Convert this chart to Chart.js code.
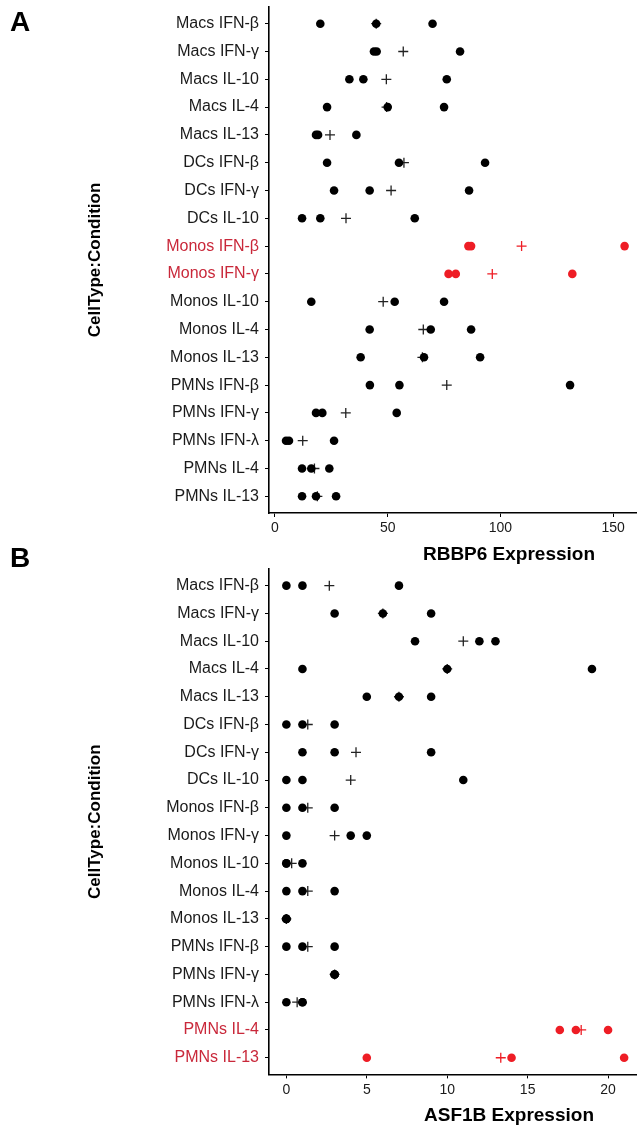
<!DOCTYPE html>
<html>
<head>
<meta charset="utf-8">
<script src="https://cdn.jsdelivr.net/npm/chart.js@4.4.0/dist/chart.umd.min.js"></script>
<style>
  html, body { margin: 0; padding: 0; background: #fff; overflow: hidden; }
  #page { position: relative; width: 637px; height: 1126px; }
  canvas { position: absolute; left: 0; }
  .letter { position: absolute; left: 10px; font: bold 28px "Liberation Sans", Arial, sans-serif; line-height: 28px; color: #000; }
  .xtitle { position: absolute; left: 409px; width: 200px; text-align: center; font: bold 19px "Liberation Sans", Arial, sans-serif; line-height: 20px; color: #000; }
</style>
</head>
<body>
<div id="page">
  <canvas id="chartA" width="637" height="563" style="top:0"></canvas>
  <canvas id="chartB" width="637" height="563" style="top:563px"></canvas>
  <div class="letter" style="top:8px">A</div>
  <div class="letter" style="top:544px">B</div>
  <div class="xtitle" style="top:544px">RBBP6 Expression</div>
  <div class="xtitle" style="top:1105px">ASF1B Expression</div>
</div>
<script>
// categorias (de arriba hacia abajo)
var rowLabels = [
    'Macs IFN-β', 'Macs IFN-γ', 'Macs IL-10', 'Macs IL-4', 'Macs IL-13',
    'DCs IFN-β', 'DCs IFN-γ', 'DCs IL-10',
    'Monos IFN-β', 'Monos IFN-γ', 'Monos IL-10', 'Monos IL-4', 'Monos IL-13',
    'PMNs IFN-β', 'PMNs IFN-γ', 'PMNs IFN-λ', 'PMNs IL-4', 'PMNs IL-13'
];

// Panel A - RBBP6 (tres replicas + media)
var rbbp6Rep1 = [20.1, 43.9, 33.0, 23.1, 18.2, 23.1, 26.2, 12.0, 85.8, 77.0, 16.1, 42.0, 38.0, 42.1, 18.2, 4.9, 12.0, 12.0];
var rbbp6Rep2 = [44.9, 45.1, 39.2, 50.0, 19.1, 55.0, 42.0, 20.1, 87.0, 80.2, 53.1, 69.1, 66.1, 55.2, 21.0, 6.2, 16.1, 18.2];
var rbbp6Rep3 = [69.9, 82.1, 76.2, 75.0, 36.1, 93.2, 86.1, 62.0, 155.1, 131.9, 75.0, 87.0, 91.0, 130.9, 54.0, 26.2, 24.1, 27.1];
var rbbp6Mean = [44.9, 56.9, 49.4, 49.5, 24.4, 57.2, 51.5, 31.5, 109.4, 96.4, 48.0, 65.8, 65.4, 76.2, 31.4, 12.3, 17.5, 18.8];
var rbbp6Highlight = ['Monos IFN-β', 'Monos IFN-γ'];
var rbbp6Ticks = [0, 50, 100, 150];

// Panel B - ASF1B
var asf1bRep1 = [0, 3, 8, 1, 5, 0, 1, 0, 0, 0, 0, 0, 0, 0, 3, 0, 17, 5];
var asf1bRep2 = [1, 6, 12, 10, 7, 1, 3, 1, 1, 4, 0, 1, 0, 1, 3, 1, 18, 14];
var asf1bRep3 = [7, 9, 13, 19, 9, 3, 9, 11, 3, 5, 1, 3, 0, 3, 3, 1, 20, 21];
var asf1bMean = [2.67, 6, 11, 10, 7, 1.33, 4.33, 4, 1.33, 3, 0.33, 1.33, 0, 1.33, 3, 0.67, 18.33, 13.33];
var asf1bHighlight = ['PMNs IL-4', 'PMNs IL-13'];
var asf1bTicks = [0, 5, 10, 15, 20];

var RED_POINT = '#ee1d25';
var RED_LABEL = '#c9283a';
var FONT = '"Liberation Sans", Arial, Helvetica, sans-serif';

Chart.defaults.font.family = FONT;

function makePanel(canvasId, reps, mean, highlight, xTicks, xMin, xMax, padTop, xAxisHeight) {
    var isRed = function (i) { return highlight.indexOf(rowLabels[i]) >= 0; };

    // puntos de cada replica
    var repPoints = [];
    var repColors = [];
    reps.forEach(function (rep) {
        rep.forEach(function (v, i) {
            repPoints.push({ x: v, y: i });
            repColors.push(isRed(i) ? RED_POINT : '#000');
        });
    });

    var meanPoints = mean.map(function (v, i) { return { x: v, y: i }; });
    var meanColors = mean.map(function (v, i) { return isRed(i) ? RED_POINT : '#222'; });

    var axisGrid = { drawOnChartArea: false, drawTicks: true, tickLength: 4, color: '#000', lineWidth: 1 };
    var axisBorder = { display: true, color: '#000', width: 1.6 };

    return new Chart(document.getElementById(canvasId), {
        type: 'scatter',
        data: {
            datasets: [
                {
                    label: 'Replicas',
                    data: repPoints,
                    pointStyle: 'circle',
                    pointRadius: 4.3,
                    pointBorderWidth: 0,
                    pointBackgroundColor: repColors,
                    pointBorderColor: repColors
                },
                {
                    label: 'Media',
                    data: meanPoints,
                    pointStyle: 'cross',
                    pointRadius: 5,
                    pointBorderWidth: 1.3,
                    pointBorderColor: meanColors,
                    pointBackgroundColor: meanColors
                }
            ]
        },
        options: {
            responsive: false,
            animation: false,
            events: [],
            layout: { autoPadding: false, padding: { top: padTop, left: 0, right: 0, bottom: 0 } },
            plugins: { legend: { display: false }, tooltip: { enabled: false } },
            scales: {
                x: {
                    type: 'linear',
                    min: xMin,
                    max: xMax,
                    afterBuildTicks: function (s) { s.ticks = xTicks.map(function (v) { return { value: v }; }); },
                    afterFit: function (s) {
                        s.height = xAxisHeight;
                        s.paddingLeft = 0;
                        s.paddingRight = 0;
                    },
                    ticks: { padding: 3, color: '#1a1a1a', font: { size: 14 } },
                    grid: axisGrid,
                    border: axisBorder
                },
                y: {
                    type: 'linear',
                    reverse: true,
                    min: -0.6,
                    max: rowLabels.length - 0.4,
                    afterBuildTicks: function (s) { s.ticks = rowLabels.map(function (_, i) { return { value: i }; }); },
                    afterFit: function (s) {
                        s.width = 269;
                        s.paddingTop = 0;
                        s.paddingBottom = 0;
                    },
                    ticks: {
                        autoSkip: false,
                        padding: 6,
                        font: { size: 16 },
                        color: function (ctx) { return isRed(ctx.index) ? RED_LABEL : '#1a1a1a'; },
                        callback: function (v, i) { return rowLabels[i]; }
                    },
                    grid: axisGrid,
                    border: axisBorder,
                    title: {
                        display: true,
                        text: 'CellType:Condition',
                        color: '#000',
                        font: { size: 17, weight: 'bold' },
                        padding: { top: 85, bottom: 0 }
                    }
                }
            }
        }
    });
}

makePanel('chartA', [rbbp6Rep1, rbbp6Rep2, rbbp6Rep3], rbbp6Mean, rbbp6Highlight, rbbp6Ticks, -2.66, 160.6, 7, 50);
makePanel('chartB', [asf1bRep1, asf1bRep2, asf1bRep3], asf1bMean, asf1bHighlight, asf1bTicks, -1.08, 21.8, 6, 51.6);
</script>
</body>
</html>
